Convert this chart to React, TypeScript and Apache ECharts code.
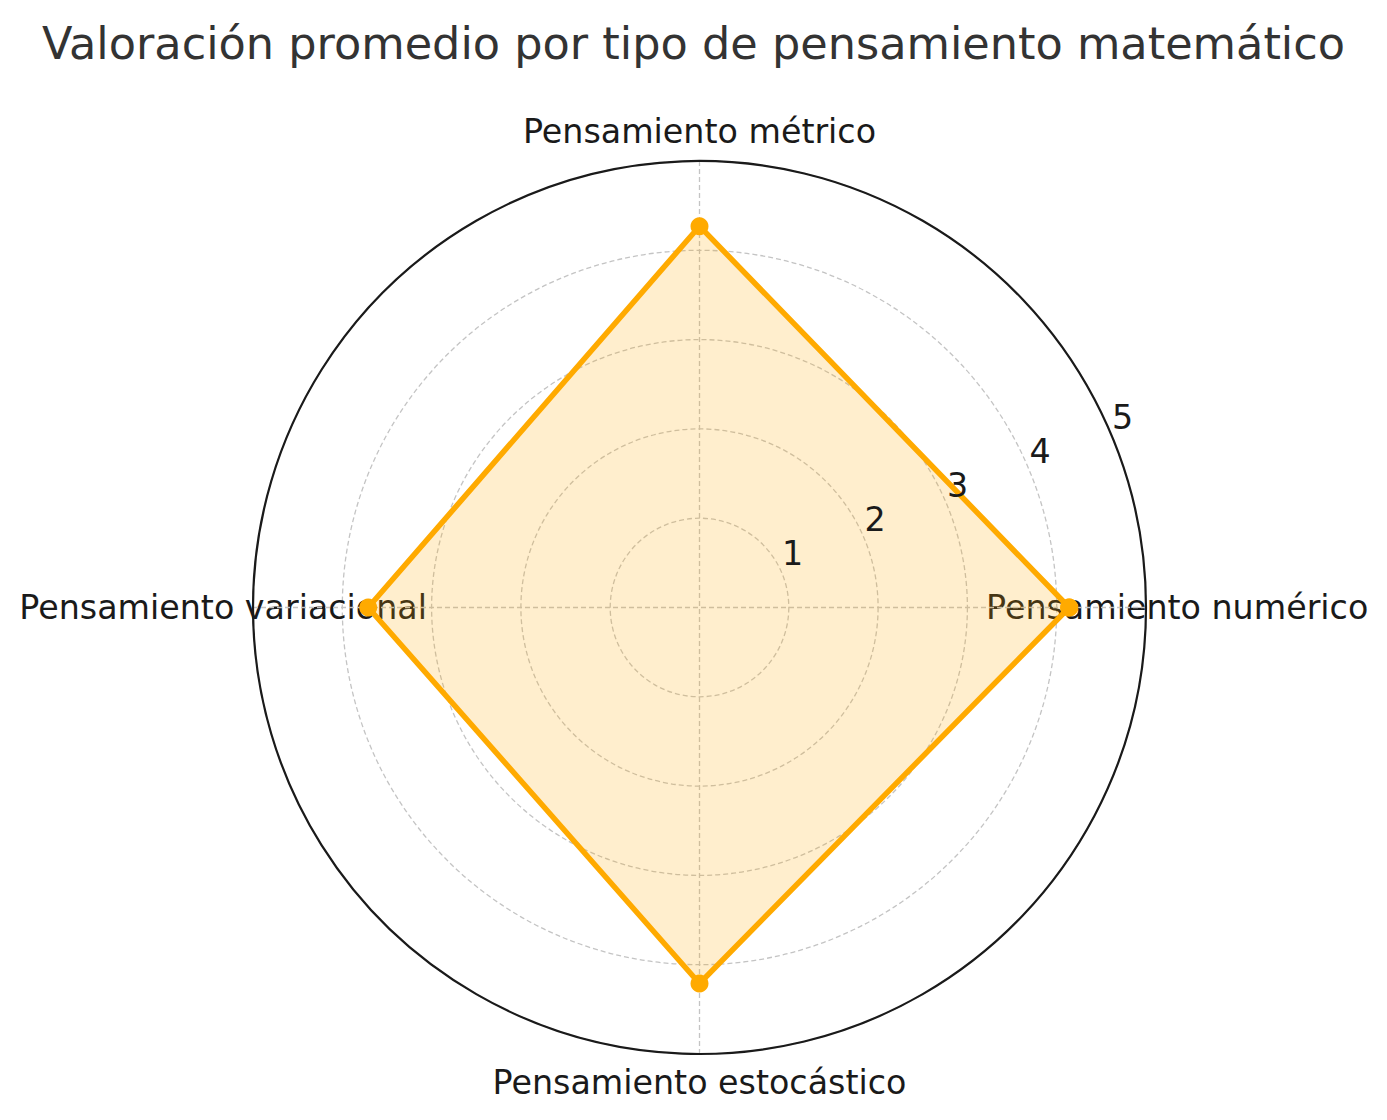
import React, { useEffect, useRef } from 'react';
import * as echarts from 'echarts';

const titleText = 'Valoración promedio por tipo de pensamiento matemático';
const categories = [
  'Pensamiento numérico',
  'Pensamiento métrico',
  'Pensamiento variacional',
  'Pensamiento estocástico',
];
const values = [4.14, 4.27, 3.71, 4.21];
const radialTicks = [1, 2, 3, 4, 5];

const FONT = 'DejaVu Sans';
const CX = 699.5;
const CY = 607.5;
const R = 446.5;

export default function App() {
  const ref = useRef<HTMLDivElement>(null);
  useEffect(() => {
    document.body.style.margin = '0';
    const chart = echarts.init(ref.current!, null, { renderer: 'svg' });
    const step = 360 / categories.length;
    const seriesData = values.map((v, i) => [v, i * step]);
    seriesData.push([values[0], 360]);
    const rMax = radialTicks[radialTicks.length - 1];

    // per-category label paddings (layout only)
    const labelPads = [
      [0, 0, 0, 14],
      [0, 0, 187, 0],
      [0, 0, 0, 0],
      [186, 0, 0, 0],
    ];
    const gridLine = { color: '#c4c4c4', width: 1.3, type: [5, 3] };

    const option: any = {
      animation: false,
      backgroundColor: '#ffffff',
      title: {
        text: titleText,
        left: 'center',
        top: 16,
        textStyle: { fontFamily: FONT, fontSize: 44.6, fontWeight: 'normal', color: '#333333' },
      },
      polar: [
        { center: [CX, CY], radius: R },
        { center: [CX, CY], radius: R },
        { center: [CX, CY], radius: R },
      ],
      angleAxis: [
        {
          polarIndex: 0,
          type: 'category',
          data: categories.map((c, i) => ({ value: c, textStyle: { padding: labelPads[i] } })),
          boundaryGap: false,
          startAngle: 0,
          clockwise: false,
          axisLine: { show: false },
          axisTick: { show: false },
          splitLine: { show: false },
          axisLabel: { show: true, margin: -174, fontFamily: FONT, fontSize: 33.3, color: '#1a1a1a' },
        },
        {
          polarIndex: 1,
          type: 'value',
          min: 0,
          max: 360,
          interval: step,
          startAngle: 0,
          clockwise: false,
          axisLine: { show: true, lineStyle: { color: '#1a1a1a', width: 2.2 } },
          axisTick: { show: false },
          axisLabel: { show: false },
          splitLine: { show: true, lineStyle: gridLine },
        },
        {
          polarIndex: 2,
          type: 'value',
          min: 0,
          max: 360,
          startAngle: 22.5,
          clockwise: false,
          show: false,
        },
      ],
      radiusAxis: [
        {
          polarIndex: 0,
          type: 'value',
          min: 0,
          max: rMax,
          show: false,
        },
        {
          polarIndex: 1,
          type: 'value',
          min: 0,
          max: rMax,
          interval: 1,
          axisLine: { show: false },
          axisTick: { show: false },
          axisLabel: { show: false },
          splitLine: { show: true, lineStyle: gridLine },
        },
        {
          polarIndex: 2,
          type: 'value',
          min: 0,
          max: rMax,
          interval: 1,
          z: 10,
          axisLine: { show: false },
          axisTick: { show: false },
          splitLine: { show: false },
          axisLabel: {
            show: true,
            margin: 21,
            align: 'left',
            verticalAlign: 'middle',
            padding: [0, 0, 0, 8],
            fontFamily: FONT,
            fontSize: 33.3,
            color: '#1a1a1a',
            showMinLabel: false,
            formatter: (v: number) => (radialTicks.includes(v) ? String(v) : ''),
          },
        },
      ],
      series: [
        {
          type: 'line',
          coordinateSystem: 'polar',
          polarIndex: 1,
          data: seriesData,
          symbol: 'circle',
          symbolSize: 18,
          showAllSymbol: true,
          lineStyle: { color: '#FFAA00', width: 5.5 },
          itemStyle: { color: '#FFAA00' },
          areaStyle: { color: 'rgba(255,170,0,0.28)' },
          z: 5,
        },
      ],
    };
    chart.setOption(option);
    return () => chart.dispose();
  }, []);
  return <div ref={ref} style={{ width: 1387, height: 1120 }} />;
}
